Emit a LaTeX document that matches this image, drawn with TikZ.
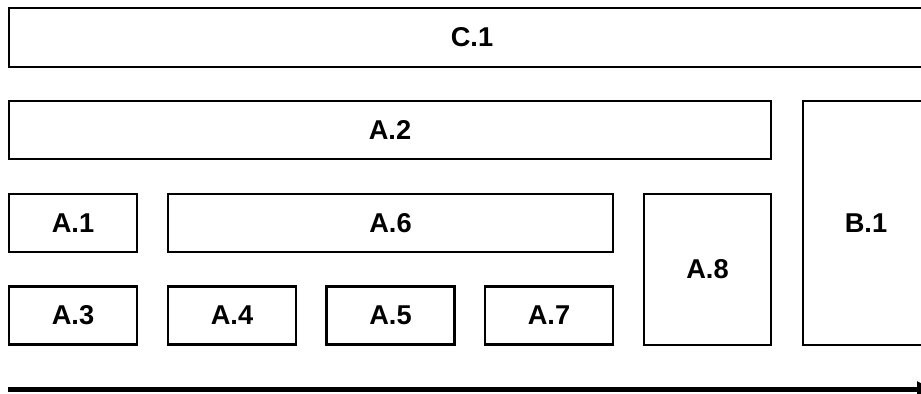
\documentclass[tikz,border=0pt]{standalone}
\usepackage{fontspec}
\setmainfont{Liberation Sans}
\usetikzlibrary{arrows.meta}

\begin{document}
\begin{tikzpicture}[x=0.02cm,y=-0.02cm]
\tikzstyle{every node}+=[inner sep=0pt]
\tikzstyle{blk}=[draw=black,line width=1.6pt,font=\bfseries\fontsize{15.5}{18}\selectfont]
\tikzstyle{small}=[blk,minimum width=2.56cm,minimum height=1.17cm]
\useasboundingbox (0,0) rectangle (921,394);
% top rows
\node [blk,minimum width=18.52cm,minimum height=1.18cm] (c1) at (472,37.5) {C.1};
\node [blk,minimum width=15.24cm,minimum height=1.16cm] (a2) at (390,130) {A.2};
\node [blk,minimum width=2.52cm,minimum height=4.88cm] (b1) at (866,223) {B.1};
% middle row
\node [small,minimum height=1.16cm] (a1) at (73,223) {A.1};
\node [blk,minimum width=8.9cm,minimum height=1.16cm] (a6) at (390.5,223) {A.6};
\node [blk,minimum width=2.54cm,minimum height=3.02cm] (a8) at (707.5,269.5) {A.8};
% bottom row
\node [small] (a3) at (73,315.5) {A.3};
\node [small] (a4) at (232,315.5) {A.4};
\node [small] (a5) at (390.5,315.5) {A.5};
\node [small] (a7) at (549,315.5) {A.7};
% arrow
\coordinate (s) at (8,389.5);
\coordinate (e) at (935,389.5);
\draw [black,line width=3.2pt,-{Triangle[length=0.36cm,width=0.3cm]}] (s) -- (e);
\end{tikzpicture}
\end{document}
